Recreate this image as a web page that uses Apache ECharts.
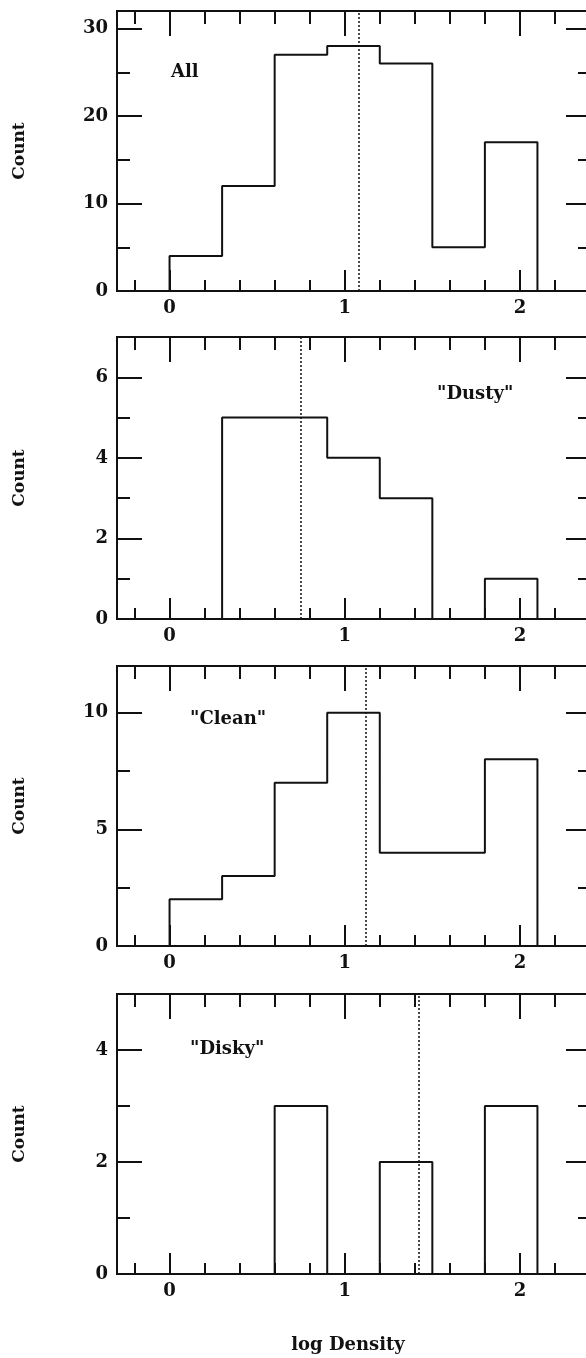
<!DOCTYPE html>
<html>
<head>
<meta charset="utf-8">
<script src="https://cdn.jsdelivr.net/npm/echarts@6/dist/echarts.min.js"></script>
<style>
html, body { margin: 0; padding: 0; background: #fff; }
#chart { width: 586px; height: 1358px; }
</style>
</head>
<body>
<div id="chart"></div>
<script>
// bin edges in log Density, one count per bin
const binEdges = [0, 0.3, 0.6, 0.9, 1.2, 1.5, 1.8, 2.1];
const countsAll = [4, 12, 27, 28, 26, 5, 17];
const countsDusty = [0, 5, 5, 4, 3, 0, 1];
const countsClean = [2, 3, 7, 10, 4, 4, 8];
const countsDisky = [0, 0, 3, 0, 2, 0, 3];
const medians = [1.08, 0.75, 1.12, 1.42];
const panelNames = ['All', '"Dusty"', '"Clean"', '"Disky"'];
const yMax = [32, 7, 12, 5];
const yMajor = [10, 2, 5, 2];
const yMinor = [5, 1, 2.5, 1];
const xMin = -0.3;
const xMax = 2.4;

const allCounts = [countsAll, countsDusty, countsClean, countsDisky];

const ink = '#111';
const font = 'DejaVu Serif';

// layout (pixels)
const gridTops = [11, 337, 666, 994];
const gridH = [280, 282, 280, 280];
const nameSpots = [[171, 75], [437, 397], [190, 722], [190, 1052]];

function outline(counts) {
  // step path: (e0,0) -> (e1,c0) -> ... -> (e7,c6) -> (e7,0)
  const pts = [[binEdges[0], 0]];
  counts.forEach((c, i) => pts.push([binEdges[i + 1], c]));
  pts.push([binEdges[binEdges.length - 1], 0]);
  return pts;
}

const grid = [];
const xAxis = [];
const yAxis = [];
const series = [];
const graphic = [];

const tickStyle = { color: ink, width: 2 };
const frameLine = { show: true, onZero: false, lineStyle: { color: ink, width: 2 } };

allCounts.forEach((counts, p) => {
  grid.push({
    left: 117, right: -4, top: gridTops[p], height: gridH[p],
    outerBoundsMode: 'none', containLabel: false,
  });

  const xBase = {
    type: 'value', gridIndex: p, min: xMin, max: xMax,
    splitLine: { show: false },
    axisLine: frameLine,
  };
  // bottom major (labels)
  xAxis.push(Object.assign({}, xBase, {
    position: 'bottom', splitNumber: 3,
    axisTick: { inside: true, length: 21, lineStyle: tickStyle },
    axisLabel: {
      show: true, margin: 8, color: ink, fontFamily: font, fontSize: 18, fontWeight: 'bold',
      showMinLabel: false, showMaxLabel: false,
      formatter: (v) => (Math.abs(v - Math.round(v)) < 1e-6 ? String(Math.round(v)) : ''),
    },
  }));
  // bottom minor
  xAxis.push(Object.assign({}, xBase, {
    position: 'bottom', splitNumber: 13,
    axisTick: { inside: true, length: 11, lineStyle: tickStyle },
    axisLabel: { show: false },
  }));
  // top major
  xAxis.push(Object.assign({}, xBase, {
    position: 'top', splitNumber: 3,
    axisTick: { inside: true, length: 25, lineStyle: tickStyle },
    axisLabel: { show: false },
  }));
  // top minor
  xAxis.push(Object.assign({}, xBase, {
    position: 'top', splitNumber: 13,
    axisTick: { inside: true, length: 13, lineStyle: tickStyle },
    axisLabel: { show: false },
  }));

  const yBase = {
    type: 'value', gridIndex: p, min: 0, max: yMax[p],
    splitLine: { show: false },
    axisLine: frameLine,
  };
  yAxis.push(Object.assign({}, yBase, {
    position: 'left', interval: yMajor[p],
    axisTick: { inside: true, length: 25, lineStyle: tickStyle },
    axisLabel: {
      show: true, margin: 9, color: ink, fontFamily: font, fontSize: 18, fontWeight: 'bold',
      showMaxLabel: false,
      formatter: (v) => (Math.abs(v / yMajor[p] - Math.round(v / yMajor[p])) < 1e-6 ? String(v) : ''),
    },
  }));
  yAxis.push(Object.assign({}, yBase, {
    position: 'left', interval: yMinor[p],
    axisTick: { inside: true, length: 13, lineStyle: tickStyle },
    axisLabel: { show: false },
  }));
  yAxis.push(Object.assign({}, yBase, {
    position: 'right', interval: yMajor[p],
    axisTick: { inside: true, length: 24, lineStyle: tickStyle },
    axisLabel: { show: false },
  }));
  yAxis.push(Object.assign({}, yBase, {
    position: 'right', interval: yMinor[p],
    axisTick: { inside: true, length: 12, lineStyle: tickStyle },
    axisLabel: { show: false },
  }));

  series.push({
    type: 'line',
    xAxisIndex: p * 4,
    yAxisIndex: p * 4,
    data: outline(counts),
    step: 'start',
    symbol: 'none',
    clip: false,
    lineStyle: { color: ink, width: 2 },
    animation: false,
    markLine: {
      silent: true,
      symbol: 'none',
      label: { show: false },
      lineStyle: { color: ink, width: 1.5, type: [2, 2] },
      data: [{ xAxis: medians[p] }],
      animation: false,
    },
  });

  graphic.push({
    type: 'text', left: nameSpots[p][0], top: nameSpots[p][1] - 12,
    style: { text: panelNames[p], fill: ink, font: 'bold 18px "DejaVu Serif"' },
  });
  graphic.push({
    type: 'text', x: 20, y: gridTops[p] + gridH[p] / 2,
    rotation: Math.PI / 2,
    style: {
      text: 'Count', fill: ink, font: 'bold 17px "DejaVu Serif"',
      align: 'center', verticalAlign: 'middle',
    },
  });
});

graphic.push({
  type: 'text', x: 348, y: 1345,
  style: {
    text: 'log Density', fill: ink, font: 'bold 18px "DejaVu Serif"',
    align: 'center', verticalAlign: 'middle',
  },
});

const myChart = echarts.init(document.getElementById('chart'), null, { renderer: 'canvas' });
myChart.setOption({
  animation: false,
  backgroundColor: '#fff',
  grid,
  xAxis,
  yAxis,
  series,
  graphic,
});
</script>
</body>
</html>
